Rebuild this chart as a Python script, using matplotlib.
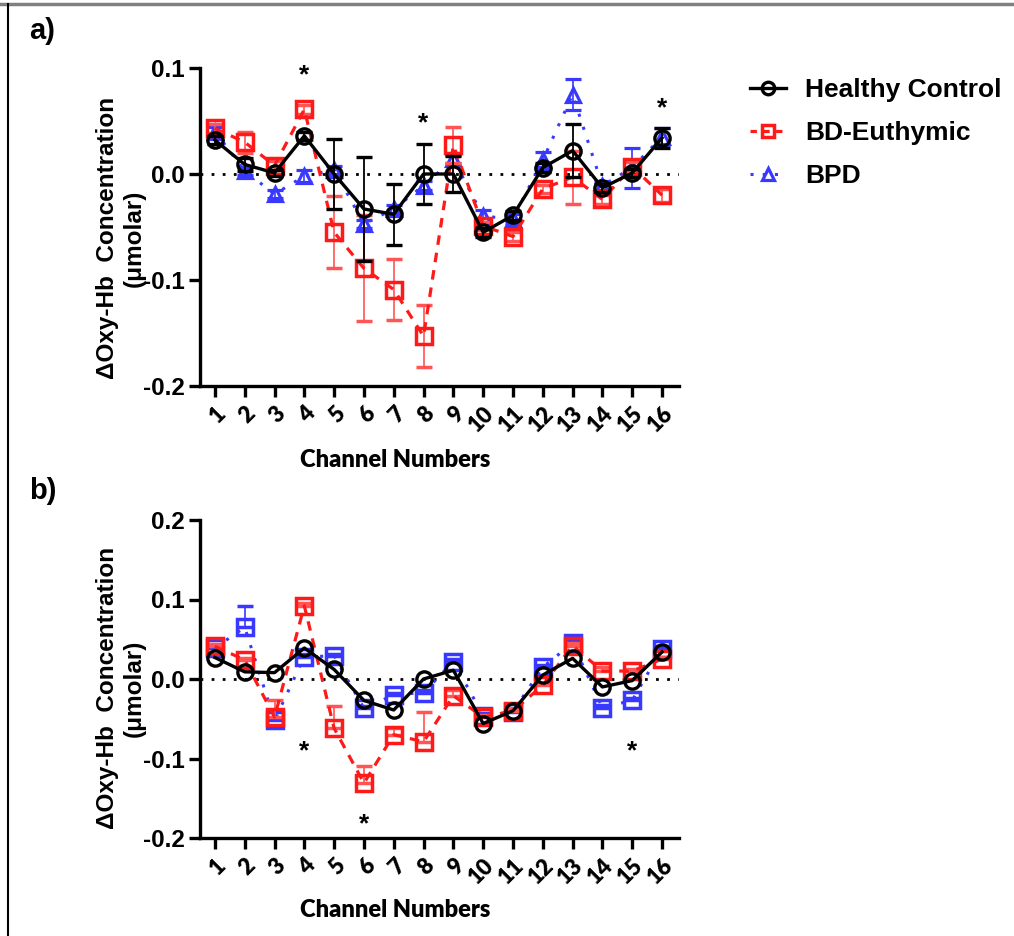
import matplotlib.pyplot as plt
from matplotlib.lines import Line2D
import numpy as np

channels = list(range(1, 17))

# panel a values (umolar)
hc_a = [0.032, 0.009, 0.001, 0.036, 0.000, -0.033, -0.038, 0.000,
        0.000, -0.055, -0.039, 0.006, 0.022, -0.013, 0.001, 0.034]
hc_a_err = [0.004, 0.006, 0.003, 0.004, 0.033, 0.049, 0.029, 0.028,
            0.017, 0.004, 0.004, 0.004, 0.025, 0.004, 0.004, 0.009]
bd_a = [0.043, 0.030, 0.008, 0.061, -0.055, -0.089, -0.109, -0.153,
        0.027, -0.049, -0.059, -0.014, -0.003, -0.024, 0.007, -0.020]
bd_a_err = [0.004, 0.010, 0.004, 0.004, 0.034, 0.050, 0.029, 0.029,
            0.017, 0.004, 0.004, 0.004, 0.025, 0.004, 0.004, 0.006]
bpd_a = [0.040, 0.003, -0.019, -0.002, 0.004, -0.047, -0.033, -0.011,
         0.014, -0.040, -0.042, 0.013, 0.075, -0.011, 0.006, 0.035]
bpd_a_err = [0.004, 0.004, 0.004, 0.006, 0.004, 0.004, 0.004, 0.004,
             0.004, 0.006, 0.004, 0.008, 0.015, 0.004, 0.019, 0.008]

# panel b values (umolar)
hc_b = [0.027, 0.009, 0.008, 0.039, 0.012, -0.027, -0.039, 0.000,
        0.011, -0.056, -0.040, 0.005, 0.026, -0.010, -0.002, 0.034]
bd_b = [0.041, 0.024, -0.048, 0.092, -0.062, -0.131, -0.070, -0.079,
        -0.021, -0.048, -0.040, -0.008, 0.042, 0.010, 0.010, 0.025]
bd_b_err = [0.003, 0.003, 0.022, 0.003, 0.028, 0.022, 0.008, 0.037,
            0.007, 0.003, 0.003, 0.003, 0.003, 0.005, 0.003, 0.003]
bpd_b = [0.039, 0.065, -0.052, 0.028, 0.029, -0.037, -0.020, -0.017,
         0.022, -0.046, -0.041, 0.015, 0.045, -0.036, -0.027, 0.038]
bpd_b_err = [0.003, 0.027, 0.003, 0.003, 0.003, 0.003, 0.003, 0.003,
             0.003, 0.003, 0.003, 0.003, 0.003, 0.003, 0.003, 0.003]

stars_a_x, stars_a_y = [4, 8, 16], [0.093, 0.048, 0.062]
stars_b_x, stars_b_y = [4, 6, 15], [-0.091, -0.183, -0.091]

W, H = 1014, 936
fig = plt.figure(figsize=(W / 100, H / 100), dpi=100)

def box(x0, y0, x1, y1):
    return [x0 / W, 1 - y1 / H, (x1 - x0) / W, (y1 - y0) / H]

ax_a = fig.add_axes(box(200, 68, 679, 386))
ax_b = fig.add_axes(box(200, 520, 679, 838))

BLACK = 'black'
RED = '#FF1A1A'
RED_LIGHT = '#FF5555'
BLUE = '#3838FF'

def style(ax, ylim, yticks):
    ax.set_xlim(0.5, 16.57)
    ax.set_ylim(*ylim)
    for s in ['top', 'right']:
        ax.spines[s].set_visible(False)
    for s in ['left', 'bottom']:
        ax.spines[s].set_linewidth(2.4)
    ax.set_xticks(channels)
    ax.set_xticklabels([str(c) for c in channels], rotation=45, ha='right',
                       rotation_mode='anchor', family='Lato', weight='heavy', fontsize=16)
    ax.set_yticks(yticks)
    ax.set_yticklabels(['%.1f' % t for t in yticks], family='Liberation Sans',
                       weight='bold', fontsize=17.5)
    ax.tick_params(axis='both', length=8, width=2.4)
    ax.tick_params(axis='x', pad=4)
    ax.tick_params(axis='y', pad=3)
    ax.axhline(0, color='black', ls=(0, (1, 3)), lw=2, zorder=1)

# ---- panel a
ax_a.errorbar(channels, bpd_a, yerr=bpd_a_err, color=BLUE, ls=(0, (1, 3.5)), lw=2.2,
              marker='^', ms=10.5, mfc='none', mew=2.3, ecolor=BLUE, elinewidth=1.2,
              capsize=6, capthick=1.2, label='BPD', zorder=3)
ax_a.errorbar(channels, bd_a, yerr=bd_a_err, color=RED, ls=(0, (3, 2.5)), lw=2.3,
              marker='s', ms=11, mfc='none', mew=2.5, ecolor=RED_LIGHT, elinewidth=1.2,
              capsize=6, capthick=1.2, label='BD-Euthymic', zorder=4)
ax_a.errorbar(channels, hc_a, yerr=hc_a_err, color=BLACK, ls='-', lw=2.4,
              marker='o', ms=11, mfc='none', mew=2.4, ecolor=BLACK, elinewidth=1.3,
              capsize=6, capthick=1.3, label='Healthy Control', zorder=5)
style(ax_a, (-0.2, 0.1), [-0.2, -0.1, 0.0, 0.1])
for x, y in zip(stars_a_x, stars_a_y):
    ax_a.text(x, y, '*', ha='center', va='center', fontsize=19, weight='bold',
              family='Liberation Sans')

handles = [
    Line2D([], [], color=BLACK, ls='-', lw=2.4, marker='o', ms=9, mfc='none', mew=2.4),
    Line2D([], [], color=RED, ls=(0, (2, 2)), lw=2.3, marker='s', ms=9, mfc='none', mew=2.5),
    Line2D([], [], color=BLUE, ls=(0, (1, 3)), lw=2.2, marker='^', ms=9, mfc='none', mew=2.3),
]
fig.legend(handles, ['Healthy Control', 'BD-Euthymic', 'BPD'], loc='upper left',
           bbox_to_anchor=(750 / W, 1 - 78 / H), frameon=False, borderpad=0,
           borderaxespad=0, handlelength=1.35, handletextpad=0.75, labelspacing=0.72,
           prop={'family': 'Liberation Sans', 'weight': 'bold', 'size': 19})

# ---- panel b
ax_b.errorbar(channels, bpd_b, yerr=[np.zeros(16), bpd_b_err], color=BLUE, ls=(0, (1, 3.5)),
              lw=2.2, marker='s', ms=11, mfc='none', mew=2.5, ecolor=BLUE, elinewidth=1.2,
              capsize=6, capthick=1.2, zorder=3)
ax_b.errorbar(channels, bd_b, yerr=[np.zeros(16), bd_b_err], color=RED, ls=(0, (3, 2.5)),
              lw=2.3, marker='s', ms=11, mfc='none', mew=2.5, ecolor=RED_LIGHT, elinewidth=1.2,
              capsize=6, capthick=1.2, zorder=4)
ax_b.plot(channels, hc_b, color=BLACK, ls='-', lw=2.4, marker='o', ms=11, mfc='none',
          mew=2.4, zorder=5)
style(ax_b, (-0.2, 0.2), [-0.2, -0.1, 0.0, 0.1, 0.2])
for x, y in zip(stars_b_x, stars_b_y):
    ax_b.text(x, y, '*', ha='center', va='center', fontsize=19, weight='bold',
              family='Liberation Sans')

# labels
ylab = '\u0394Oxy-Hb  Concentration\n(\u03bcmolar)'
fig.text(121 / W, 1 - 238 / H, ylab, rotation=90, ha='center', va='center',
         multialignment='center', family='Liberation Sans', weight='bold', fontsize=17.5,
         linespacing=1.2)
fig.text(121 / W, 1 - 688 / H, ylab, rotation=90, ha='center', va='center',
         multialignment='center', family='Liberation Sans', weight='bold', fontsize=17.5,
         linespacing=1.2)
fig.text(395 / W, 1 - 460 / H, 'Channel Numbers', ha='center', va='center',
         family='Lato', weight='heavy', fontsize=17)
fig.text(395 / W, 1 - 910 / H, 'Channel Numbers', ha='center', va='center',
         family='Lato', weight='heavy', fontsize=17)
fig.text(29 / W, 1 - 31 / H, 'a)', ha='left', va='center', family='Liberation Sans',
         weight='bold', fontsize=21)
fig.text(29 / W, 1 - 491 / H, 'b)', ha='left', va='center', family='Liberation Sans',
         weight='bold', fontsize=21)

# outer frame lines
fig.add_artist(Line2D([0, 1012 / W], [1 - 4 / H, 1 - 4 / H], color='#808080', lw=2.5))
fig.add_artist(Line2D([8 / W, 8 / W], [0, 1 - 4 / H], color='black', lw=1.5))

fig.savefig('out.png', dpi=100)
